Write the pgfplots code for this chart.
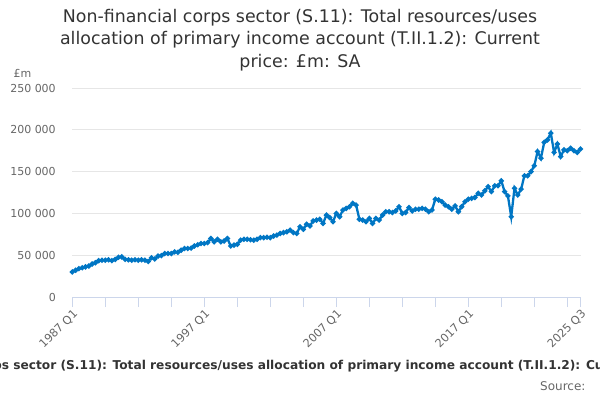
\documentclass[border=0pt]{standalone}
\usepackage{fontspec}
\setmainfont{DejaVu Sans}
\usepackage{pgfplots}
\pgfplotsset{compat=1.18}
\usepackage{pgfplotstable}
\definecolor{series}{RGB}{0,118,196}
\definecolor{axisc}{RGB}{204,214,235}
\definecolor{gridc}{RGB}{230,230,230}
\definecolor{titlec}{RGB}{51,51,51}
\definecolor{labc}{RGB}{102,102,102}
\pgfplotstableread{
i v
0 30000
1 32000
2 34000
3 35000
4 36000
5 37000
6 39500
7 41000
8 43500
9 44000
10 44000
11 44500
12 43500
13 45000
14 47500
15 48000
16 45000
17 44500
18 44000
19 44500
20 44000
21 44500
22 44000
23 42500
24 47000
25 45500
26 49000
27 49500
28 52000
29 52000
30 52000
31 54000
32 53500
33 56000
34 58000
35 58000
36 58500
37 61000
38 62500
39 64000
40 64000
41 65000
42 70000
43 66000
44 69000
45 66000
46 67000
47 70000
48 61000
49 62000
50 63000
51 68000
52 69000
53 69000
54 68500
55 68000
56 69000
57 71000
58 71000
59 71500
60 71000
61 73000
62 74000
63 76000
64 77000
65 78000
66 80000
67 77000
68 76000
69 84000
70 81000
71 87000
72 85000
73 91000
74 92000
75 93000
76 88000
77 98000
78 95000
79 90000
80 100000
81 96000
82 104000
83 106000
84 108000
85 112000
86 110000
87 93000
88 92000
89 90000
90 94000
91 88000
92 94000
93 92000
94 98000
95 102000
96 102000
97 101000
98 103000
99 108000
100 100000
101 101000
102 107000
103 103000
104 105000
105 105000
106 106000
107 105000
108 102000
109 104000
110 117000
111 116000
112 114000
113 110000
114 108000
115 105000
116 109000
117 102000
118 108000
119 114000
120 117000
121 118000
122 119000
123 124000
124 122000
125 127000
126 132000
127 126000
128 133000
129 133000
130 139000
131 126000
132 121000
133 96000
134 130000
135 122000
136 129000
137 145000
138 145000
139 150000
140 157000
141 174000
142 166000
143 185000
144 188000
145 196000
146 173000
147 183000
148 168000
149 176000
150 175000
151 178000
152 175000
153 173000
154 177000
}\data
\begin{document}
\begin{tikzpicture}[x=1pt,y=1pt]
\useasboundingbox (0,0) rectangle (600,400);
\node[align=center, font=\fontsize{17.4}{22.5}\selectfont, color=titlec] at (300,360) {Non-financial corps sector (S.11): Total resources/uses\\allocation of primary income account (T.II.1.2): Current\\price: £m: SA};
\node[anchor=west, font=\fontsize{11}{13}\selectfont, color=labc] at (10,327) {£m};
\begin{axis}[
  at={(72.3pt,103pt)}, anchor=south west,
  scale only axis, width=508.2pt, height=209pt,
  xmin=0, xmax=154, ymin=0, ymax=250000,
  axis x line*=bottom, axis y line*=left,
  y axis line style={draw=none},
  x axis line style={axisc, line width=1pt},
  xtick={0,40,80,120,154},
  xticklabels={1987 Q1,1997 Q1,2007 Q1,2017 Q1,2025 Q3},
  minor xtick={10,20,30,50,60,70,90,100,110,130,140,150},
  ytick={0,50000,100000,150000,200000,250000},
  yticklabels={0,50 000,100 000,150 000,200 000,250 000},
  scaled y ticks=false,
  tick align=outside, major tick length=10pt, minor tick length=10pt,
  xtick style={axisc, line width=1pt},
  minor x tick style={axisc, line width=1pt},
  ytick style={draw=none},
  ymajorgrids, grid style={gridc, line width=1pt},
  yticklabel style={font=\fontsize{11}{13}\selectfont, color=labc, xshift=-3pt},
  xticklabel style={font=\fontsize{11.3}{13}\selectfont, color=labc, rotate=45, anchor=north east, inner sep=1pt},
]
\addplot[series, line width=2.3pt, mark=*, mark size=1.3pt] table[x=i,y=v]{\data};
\end{axis}
\node[font=\bfseries\fontsize{12.2}{15}\selectfont, color=titlec] at (307,34) {Non-financial corps sector (S.11): Total resources/uses allocation of primary income account (T.II.1.2): Current price: £m: SA};
\node[anchor=east, font=\fontsize{12}{14}\selectfont, color=labc] at (589,14) {Source:};
\end{tikzpicture}
\end{document}
